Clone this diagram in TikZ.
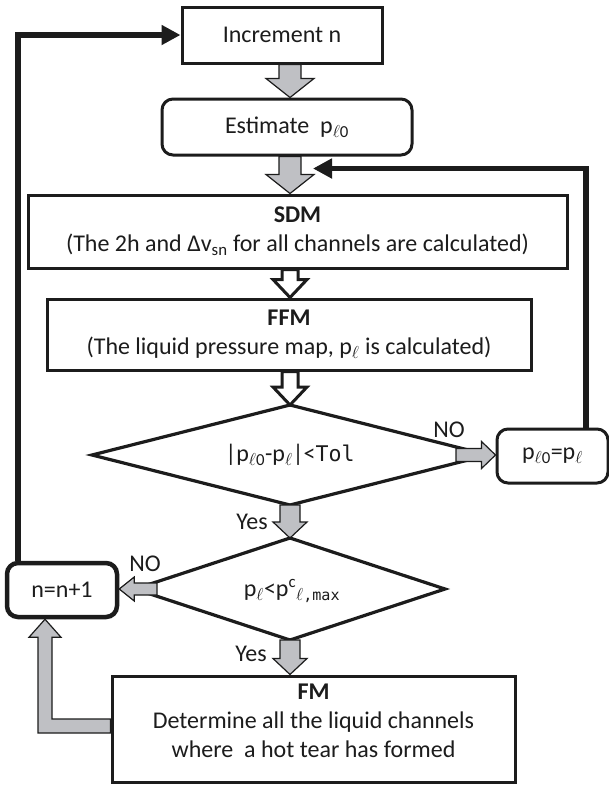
\documentclass[tikz,border=0pt]{standalone}
\usepackage{fontspec}
\setmainfont{Carlito}
\setmonofont{DejaVu Sans Mono}[Scale=0.9]
\usetikzlibrary{arrows.meta,calc}
\definecolor{agray}{RGB}{191,192,196}
\definecolor{ink}{RGB}{28,28,28}
% block arrow: #1 style, #2 from, #3 to, #4 shaft half width, #5 head half width, #6 head length
\newcommand\blockarr[6][]{%
  \path[#1] let \p1=(#2), \p2=(#3),
    \n1={veclen(\x2-\x1,\y2-\y1)},
    \n2={(\x2-\x1)/\n1}, \n3={(\y2-\y1)/\n1} in
  ({\x1-(\n3)*(#4)},{\y1+(\n2)*(#4)}) --
  ({\x2-(\n2)*(#6)-(\n3)*(#4)},{\y2-(\n3)*(#6)+(\n2)*(#4)}) --
  ({\x2-(\n2)*(#6)-(\n3)*(#5)},{\y2-(\n3)*(#6)+(\n2)*(#5)}) --
  (\p2) --
  ({\x2-(\n2)*(#6)+(\n3)*(#5)},{\y2-(\n3)*(#6)-(\n2)*(#5)}) --
  ({\x2-(\n2)*(#6)+(\n3)*(#4)},{\y2-(\n3)*(#6)-(\n2)*(#4)}) --
  ({\x1+(\n3)*(#4)},{\y1-(\n2)*(#4)}) -- cycle;}
\begin{document}
\begin{tikzpicture}[x=1pt,y=-1pt,
  font=\fontsize{24}{29}\selectfont, text=ink,
  box/.style={draw=ink, line width=3pt, rectangle, inner sep=0pt, align=center},
  rbox/.style={box, rounded corners=11pt},
  dline/.style={draw=ink, line width=3.2pt, line join=miter},
  garr/.style={fill=agray, draw=ink, line width=1.2pt, line join=miter},
  harr/.style={fill=white, draw=ink, line width=3pt, line join=miter},
  blk/.style={draw=ink, line width=5.5pt, -{Triangle[length=19pt,width=19pt]}},
  lab/.style={inner sep=0pt}]
\useasboundingbox (0,0) rectangle (609,785);
\fill[white] (0,0) rectangle (609,785);

% boxes
\node[box, minimum width=200pt, minimum height=56pt] (inc) at (282,35) {Increment n};
\node[rbox, minimum width=250pt, minimum height=56pt] (est) at (287,127) {Estimate~~p\textsubscript{$\ell$0}};
\node[box, minimum width=539pt, minimum height=73pt] (sdm) at (297.5,231.5)
  {\textbf{SDM}\\(The 2h and Δv\textsubscript{sn} for all channels are calculated)};
\node[box, minimum width=484pt, minimum height=71pt] (ffm) at (289,334.5)
  {\textbf{FFM}\\(The liquid pressure map, p\textsubscript{$\ell$} is calculated)};
\node[rbox, minimum width=111pt, minimum height=54pt] (pb) at (552.5,456)
  {p\textsubscript{$\ell$0}=p\textsubscript{$\ell$}};
\node[rbox, line width=4.5pt, minimum width=110pt, minimum height=54pt] (nb) at (62,590) {n=n+1};
\node[box, minimum width=403pt, minimum height=106pt] (fm) at (313.5,729) {};
\node[lab, align=center] (fmt) at (313.5,721)
  {\textbf{FM}\\Determine all the liquid channels\\where~~a hot tear has formed};

% diamond 1
\coordinate (d1t) at (290,405);
\coordinate (d1b) at (290,505);
\coordinate (d1l) at (92,455);
\coordinate (d1r) at (488,455);
\draw[dline] (d1t) -- (d1r) -- (d1b) -- (d1l) -- cycle;
\node[lab] (d1txt) at (290,455) {|p\textsubscript{$\ell$0}-p\textsubscript{$\ell$}|<\texttt{Tol}};

% diamond 2
\coordinate (d2t) at (290,538);
\coordinate (d2b) at (290,640);
\coordinate (d2l) at (135,589);
\coordinate (d2r) at (445,589);
\draw[dline] (d2t) -- (d2r) -- (d2b) -- (d2l) -- cycle;
\node[lab] (d2txt) at (292,591) {p\textsubscript{$\ell$}<p\textsuperscript{c}\textsubscript{$\ell$\texttt{,max}}};

% gray block arrows
\blockarr[garr]{inc.south -| d1t}{est.north -| d1t}{11pt}{24pt}{19pt}
\blockarr[garr]{est.south -| d1t}{sdm.north -| d1t}{11pt}{24pt}{19pt}
\blockarr[harr]{sdm.south -| d1t}{ffm.north -| d1t}{8pt}{17pt}{18pt}
\blockarr[harr]{ffm.south -| d1t}{d1t}{8pt}{17pt}{18pt}
\blockarr[garr]{[xshift=-32pt]d1r}{pb.west |- d1r}{6.5pt}{13.5pt}{14pt}
\blockarr[garr]{d1b}{d2t}{10pt}{17pt}{16pt}
\blockarr[garr]{[xshift=22pt]d2l}{nb.east |- d2l}{6pt}{12pt}{15pt}
\blockarr[garr]{d2b}{fm.north -| d2b}{10pt}{17pt}{16pt}

% L-shaped gray arrow from FM to n=n+1
\coordinate (lu) at ([xshift=-17pt]nb.south);
\path[garr] let \p1=([yshift=3pt]fm.west), \p2=(lu) in
  (\x1,\y1+7pt) -- (\x2+7pt,\y1+7pt) -- (\x2+7pt,\y2-18pt) -- (\x2+16pt,\y2-18pt) --
  (\p2) -- (\x2-16pt,\y2-18pt) -- (\x2-7pt,\y2-18pt) -- (\x2-7pt,\y1-7pt) -- (\x1,\y1-7pt) -- cycle;

% black loop connectors
\coordinate (fb) at ([xshift=26pt,yshift=-12pt]est.south);
\draw[blk] ([xshift=13pt]nb.north west) |- (inc.west);
\draw[blk] ([xshift=33.5pt]pb.north) |- (fb);

% labels
\node[lab] (no1) at (449,430) {NO};
\node[lab] (yes1) at (252,522) {Yes};
\node[lab] (no2) at (145,564) {NO};
\node[lab] (yes2) at (251,654) {Yes};
\end{tikzpicture}
\end{document}
